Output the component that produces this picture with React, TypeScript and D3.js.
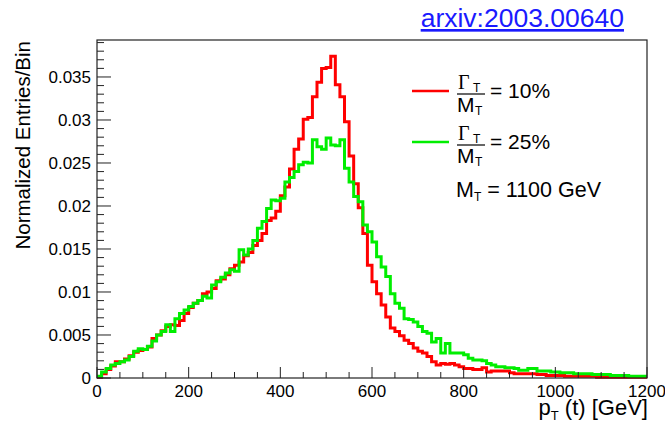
import React, { useLayoutEffect, useRef, useState } from "react";
import * as d3 from "d3";

const binEdges: number[] = d3.range(0, 1200, 10);

const redValues: number[] = [
  0.0001, 0.0005, 0.0010, 0.0014, 0.0019, 0.0019, 0.0022, 0.0026, 0.0030, 0.0032,
  0.0033, 0.0036, 0.0046, 0.0050, 0.0055, 0.0060, 0.0062, 0.0061, 0.0067, 0.0075,
  0.0082, 0.0087, 0.0090, 0.0098, 0.0100, 0.0104, 0.0113, 0.0115, 0.0120, 0.0127,
  0.0131, 0.0135, 0.0142, 0.0146, 0.0154, 0.0160, 0.0168, 0.0183, 0.0186, 0.0194,
  0.0212, 0.0222, 0.0243, 0.0266, 0.0278, 0.0301, 0.0303, 0.0327, 0.0344, 0.0360,
  0.0361, 0.0374, 0.0341, 0.0327, 0.0298, 0.0258, 0.0226, 0.0198, 0.0168, 0.0131,
  0.0112, 0.0098, 0.0085, 0.0071, 0.0058, 0.0054, 0.0049, 0.0044, 0.0040, 0.0035,
  0.0031, 0.0029, 0.0025, 0.0019, 0.0015, 0.0017, 0.0016, 0.0017, 0.0015, 0.0013,
  0.0011, 0.0011, 0.0010, 0.0010, 0.0012, 0.0007, 0.0008, 0.0008, 0.0008, 0.0008,
  0.0006, 0.0005, 0.0005, 0.0005, 0.0005, 0.0005, 0.0004, 0.0004, 0.0003, 0.0003,
  0.0003, 0.0003, 0.0002, 0.0002, 0.0002, 0.0002, 0.0002, 0.0002, 0.0002, 0.0001,
  0.0001, 0.0001, 0.0001, 0.0001, 0.0001, 0.0001, 0.0001, 0.0001, 0.0001, 0.0001,
];

const greenValues: number[] = [
  0.0002, 0.0007, 0.0011, 0.0015, 0.0017, 0.0019, 0.0021, 0.0025, 0.0031, 0.0034,
  0.0033, 0.0037, 0.0043, 0.0050, 0.0054, 0.0062, 0.0054, 0.0069, 0.0075, 0.0079,
  0.0083, 0.0087, 0.0090, 0.0095, 0.0093, 0.0108, 0.0112, 0.0117, 0.0122, 0.0126,
  0.0124, 0.0149, 0.0143, 0.0150, 0.0160, 0.0174, 0.0182, 0.0197, 0.0207, 0.0206,
  0.0209, 0.0228, 0.0233, 0.0240, 0.0248, 0.0251, 0.0250, 0.0277, 0.0269, 0.0266,
  0.0279, 0.0271, 0.0270, 0.0277, 0.0244, 0.0228, 0.0211, 0.0205, 0.0178, 0.0170,
  0.0158, 0.0141, 0.0129, 0.0118, 0.0098, 0.0087, 0.0081, 0.0069, 0.0068, 0.0065,
  0.0060, 0.0054, 0.0052, 0.0042, 0.0046, 0.0029, 0.0040, 0.0029, 0.0029, 0.0029,
  0.0027, 0.0023, 0.0021, 0.0021, 0.0020, 0.0017, 0.0015, 0.0013, 0.0013, 0.0012,
  0.0012, 0.0011, 0.0009, 0.0009, 0.0011, 0.0011, 0.0008, 0.0008, 0.0008, 0.0007,
  0.0007, 0.0006, 0.0006, 0.0006, 0.0005, 0.0005, 0.0005, 0.0005, 0.0004, 0.0004,
  0.0004, 0.0004, 0.0003, 0.0003, 0.0003, 0.0003, 0.0002, 0.0002, 0.0002, 0.0002,
];

const xTicks: number[] = [0, 200, 400, 600, 800, 1000, 1200];
const yTicks: number[] = [0, 0.005, 0.01, 0.015, 0.02, 0.025, 0.03, 0.035];
const yTickLabels: string[] = ["0", "0.005", "0.01", "0.015", "0.02", "0.025", "0.03", "0.035"];
const legendLabels: string[] = ["= 10%", "= 25%"];
const massLabel = "1100 GeV";
const titleText = "arxiv:2003.00640";

const W = 665;
const H = 425;
const left = 97;
const right = 647;
const top = 40;
const bottom = 378;
const font = "'Liberation Sans', Arial, Helvetica, sans-serif";
const serif = "'Liberation Serif', 'Times New Roman', serif";

export default function App() {
  const x = d3.scaleLinear().domain([0, 1200]).range([left, right]);
  const y = d3.scaleLinear().domain([0, 0.0393]).range([bottom, top]);

  const xTitleRef = useRef<SVGTextElement | null>(null);
  const [xTitleX, setXTitleX] = useState(537);
  useLayoutEffect(() => {
    if (xTitleRef.current) {
      const w = xTitleRef.current.getBBox().width;
      const nx = 648 - w;
      if (Math.abs(nx - xTitleX) > 0.5) setXTitleX(nx);
    }
  }, [xTitleX]);

  const stepPath = (vals: number[]) => {
    const pts: [number, number][] = vals.map((v, i) => [binEdges[i], v]);
    pts.push([1200, vals[vals.length - 1]]);
    const line = d3
      .line<[number, number]>()
      .x((d) => x(d[0]))
      .y((d) => y(d[1]))
      .curve(d3.curveStepAfter);
    return line(pts) || "";
  };

  const xMinor = d3.range(0, 1201, 50);
  const yMinor = d3.range(0, 0.0391, 0.001);

  const legendY = [91, 142];
  const legendColors = ["#ff0000", "#00ee00"];

  return (
    <svg
      width={W}
      height={H}
      style={{ position: "absolute", left: 0, top: 0, background: "#fff" }}
      fontFamily={font}
    >
      <rect x={0} y={0} width={W} height={H} fill="#fff" />
      {/* title link */}
      <text x={624} y={27} textAnchor="end" fontSize={26.5} fill="#1a1aff" textDecoration="underline">
        {titleText}
      </text>

      {/* histograms */}
      <path d={stepPath(redValues)} fill="none" stroke="#ff0000" strokeWidth={3} strokeLinejoin="miter" />
      <path d={stepPath(greenValues)} fill="none" stroke="#00ee00" strokeWidth={3} strokeLinejoin="miter" />

      {/* frame */}
      <rect x={left} y={top} width={right - left} height={bottom - top} fill="none" stroke="#222" strokeWidth={1.2} />

      {/* x ticks */}
      {xMinor.map((t) => {
        const major = t % 200 === 0;
        return (
          <line key={"xm" + t} x1={x(t)} x2={x(t)} y1={bottom} y2={bottom - (major ? 11 : 6)} stroke="#222" strokeWidth={1} />
        );
      })}
      {xTicks.map((t) => (
        <text key={"xl" + t} x={x(t)} y={397} textAnchor="middle" fontSize={17} fill="#000">
          {t}
        </text>
      ))}

      {/* y ticks */}
      {yMinor.map((t, i) => {
        const major = i % 5 === 0;
        return (
          <line key={"ym" + i} x1={left} x2={left + (major ? 14 : 7)} y1={y(t)} y2={y(t)} stroke="#222" strokeWidth={1} />
        );
      })}
      {yTicks.map((t, i) => (
        <text key={"yl" + i} x={91} y={y(t) + 6} textAnchor="end" fontSize={17} fill="#000">
          {yTickLabels[i]}
        </text>
      ))}

      {/* axis titles */}
      <text ref={xTitleRef} x={xTitleX} y={415} fontSize={22} fill="#000">
        <tspan>p</tspan>
        <tspan dy={5} fontSize={13}>T</tspan>
        <tspan dy={-5}> (t) [GeV]</tspan>
      </text>
      <text transform={`translate(30,${top + 1}) rotate(-90)`} textAnchor="end" fontSize={20.5} fill="#000">
        Normalized Entries/Bin
      </text>

      {/* legend */}
      {legendLabels.map((lab, i) => {
        const ly = legendY[i];
        return (
          <g key={"lg" + i}>
            <line x1={412} x2={449} y1={ly} y2={ly} stroke={legendColors[i]} strokeWidth={2.5} />
            <text x={458} y={ly - 2} fontSize={20} fontFamily={serif} fill="#000">Γ</text>
            <text x={473} y={ly + 1} fontSize={12} fill="#000">T</text>
            <line x1={457} x2={485} y1={ly + 3} y2={ly + 3} stroke="#000" strokeWidth={1.2} />
            <text x={457} y={ly + 21} fontSize={21} fill="#000">M</text>
            <text x={475} y={ly + 24} fontSize={12} fill="#000">T</text>
            <text x={490} y={ly + 7} fontSize={21} fill="#000">{lab}</text>
          </g>
        );
      })}
      <text x={456} y={197} fontSize={21.5} fill="#000">
        <tspan>M</tspan>
        <tspan dy={4} fontSize={12}>T</tspan>
        <tspan dy={-4}> = {massLabel}</tspan>
      </text>
    </svg>
  );
}
